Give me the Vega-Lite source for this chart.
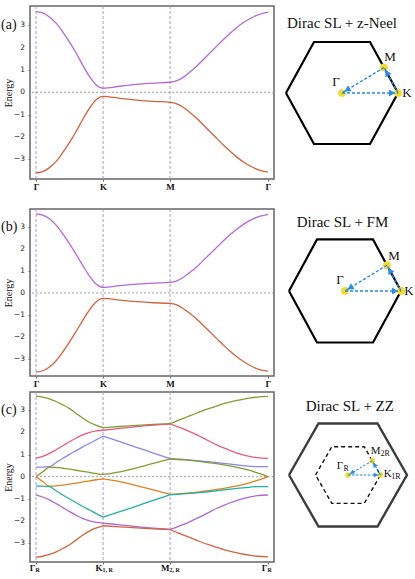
{
"$schema":"https://vega.github.io/schema/vega-lite/v6.json",
"padding":{"left":0,"top":4,"right":0,"bottom":0},
"background":"white",
"config":{"view":{"stroke":null},"font":"Liberation Serif","axis":{"labelOverlap":false,"labelFlush":false}},
"datasets":{
"A":[{"b":"u","x":0,"e":3.62},{"b":"u","x":0.1,"e":3.56},{"b":"u","x":0.2,"e":3.38},{"b":"u","x":0.3,"e":3.1},{"b":"u","x":0.4,"e":2.7},{"b":"u","x":0.5,"e":2.25},{"b":"u","x":0.6,"e":1.75},{"b":"u","x":0.7,"e":1.2},{"b":"u","x":0.8,"e":0.7},{"b":"u","x":0.9,"e":0.32},{"b":"u","x":1,"e":0.18},{"b":"u","x":1.25,"e":0.27},{"b":"u","x":1.5,"e":0.35},{"b":"u","x":1.75,"e":0.41},{"b":"u","x":2,"e":0.45},{"b":"u","x":2.1,"e":0.52},{"b":"u","x":2.2,"e":0.68},{"b":"u","x":2.3,"e":0.92},{"b":"u","x":2.4,"e":1.18},{"b":"u","x":2.5,"e":1.48},{"b":"u","x":2.6,"e":1.78},{"b":"u","x":2.7,"e":2.08},{"b":"u","x":2.8,"e":2.38},{"b":"u","x":2.9,"e":2.66},{"b":"u","x":3,"e":2.92},{"b":"u","x":3.1,"e":3.14},{"b":"u","x":3.2,"e":3.32},{"b":"u","x":3.3,"e":3.46},{"b":"u","x":3.4,"e":3.55},{"b":"u","x":3.46,"e":3.58},
{"b":"l","x":0,"e":-3.62},{"b":"l","x":0.1,"e":-3.56},{"b":"l","x":0.2,"e":-3.38},{"b":"l","x":0.3,"e":-3.1},{"b":"l","x":0.4,"e":-2.7},{"b":"l","x":0.5,"e":-2.25},{"b":"l","x":0.6,"e":-1.75},{"b":"l","x":0.7,"e":-1.2},{"b":"l","x":0.8,"e":-0.7},{"b":"l","x":0.9,"e":-0.32},{"b":"l","x":1,"e":-0.18},{"b":"l","x":1.25,"e":-0.27},{"b":"l","x":1.5,"e":-0.35},{"b":"l","x":1.75,"e":-0.41},{"b":"l","x":2,"e":-0.45},{"b":"l","x":2.1,"e":-0.52},{"b":"l","x":2.2,"e":-0.68},{"b":"l","x":2.3,"e":-0.92},{"b":"l","x":2.4,"e":-1.18},{"b":"l","x":2.5,"e":-1.48},{"b":"l","x":2.6,"e":-1.78},{"b":"l","x":2.7,"e":-2.08},{"b":"l","x":2.8,"e":-2.38},{"b":"l","x":2.9,"e":-2.66},{"b":"l","x":3,"e":-2.92},{"b":"l","x":3.1,"e":-3.14},{"b":"l","x":3.2,"e":-3.32},{"b":"l","x":3.3,"e":-3.46},{"b":"l","x":3.4,"e":-3.55},{"b":"l","x":3.46,"e":-3.58}],
"B":[{"b":"u","x":0,"e":3.62},{"b":"u","x":0.1,"e":3.56},{"b":"u","x":0.2,"e":3.39},{"b":"u","x":0.3,"e":3.1},{"b":"u","x":0.4,"e":2.7},{"b":"u","x":0.5,"e":2.24},{"b":"u","x":0.6,"e":1.75},{"b":"u","x":0.7,"e":1.24},{"b":"u","x":0.8,"e":0.76},{"b":"u","x":0.9,"e":0.4},{"b":"u","x":1,"e":0.25},{"b":"u","x":1.25,"e":0.33},{"b":"u","x":1.5,"e":0.4},{"b":"u","x":1.75,"e":0.45},{"b":"u","x":2,"e":0.48},{"b":"u","x":2.1,"e":0.55},{"b":"u","x":2.2,"e":0.72},{"b":"u","x":2.3,"e":0.95},{"b":"u","x":2.4,"e":1.2},{"b":"u","x":2.5,"e":1.5},{"b":"u","x":2.6,"e":1.8},{"b":"u","x":2.7,"e":2.1},{"b":"u","x":2.8,"e":2.4},{"b":"u","x":2.9,"e":2.68},{"b":"u","x":3,"e":2.93},{"b":"u","x":3.1,"e":3.15},{"b":"u","x":3.2,"e":3.33},{"b":"u","x":3.3,"e":3.47},{"b":"u","x":3.4,"e":3.55},{"b":"u","x":3.46,"e":3.58},
{"b":"l","x":0,"e":-3.62},{"b":"l","x":0.1,"e":-3.56},{"b":"l","x":0.2,"e":-3.39},{"b":"l","x":0.3,"e":-3.1},{"b":"l","x":0.4,"e":-2.7},{"b":"l","x":0.5,"e":-2.24},{"b":"l","x":0.6,"e":-1.75},{"b":"l","x":0.7,"e":-1.24},{"b":"l","x":0.8,"e":-0.76},{"b":"l","x":0.9,"e":-0.4},{"b":"l","x":1,"e":-0.25},{"b":"l","x":1.25,"e":-0.33},{"b":"l","x":1.5,"e":-0.4},{"b":"l","x":1.75,"e":-0.45},{"b":"l","x":2,"e":-0.48},{"b":"l","x":2.1,"e":-0.55},{"b":"l","x":2.2,"e":-0.72},{"b":"l","x":2.3,"e":-0.95},{"b":"l","x":2.4,"e":-1.2},{"b":"l","x":2.5,"e":-1.5},{"b":"l","x":2.6,"e":-1.8},{"b":"l","x":2.7,"e":-2.1},{"b":"l","x":2.8,"e":-2.4},{"b":"l","x":2.9,"e":-2.68},{"b":"l","x":3,"e":-2.93},{"b":"l","x":3.1,"e":-3.15},{"b":"l","x":3.2,"e":-3.33},{"b":"l","x":3.3,"e":-3.47},{"b":"l","x":3.4,"e":-3.55},{"b":"l","x":3.46,"e":-3.58}],
"C":[
{"b":"g1","s":1,"x":0,"e":3.64},{"b":"g1","s":1,"x":0.1,"e":3.6},{"b":"g1","s":1,"x":0.2,"e":3.52},{"b":"g1","s":1,"x":0.3,"e":3.4},{"b":"g1","s":1,"x":0.4,"e":3.25},{"b":"g1","s":1,"x":0.5,"e":3.08},{"b":"g1","s":1,"x":0.6,"e":2.86},{"b":"g1","s":1,"x":0.7,"e":2.64},{"b":"g1","s":1,"x":0.8,"e":2.45},{"b":"g1","s":1,"x":0.9,"e":2.32},{"b":"g1","s":1,"x":1,"e":2.22},
{"b":"g1","s":2,"x":1,"e":2.22},{"b":"g1","s":2,"x":1.25,"e":2.27},{"b":"g1","s":2,"x":1.5,"e":2.32},{"b":"g1","s":2,"x":1.75,"e":2.36},{"b":"g1","s":2,"x":2,"e":2.4},
{"b":"g1","s":3,"x":2,"e":2.4},{"b":"g1","s":3,"x":2.1,"e":2.52},{"b":"g1","s":3,"x":2.2,"e":2.64},{"b":"g1","s":3,"x":2.3,"e":2.76},{"b":"g1","s":3,"x":2.4,"e":2.88},{"b":"g1","s":3,"x":2.5,"e":3.0},{"b":"g1","s":3,"x":2.6,"e":3.1},{"b":"g1","s":3,"x":2.7,"e":3.2},{"b":"g1","s":3,"x":2.8,"e":3.3},{"b":"g1","s":3,"x":2.9,"e":3.38},{"b":"g1","s":3,"x":3,"e":3.45},{"b":"g1","s":3,"x":3.1,"e":3.51},{"b":"g1","s":3,"x":3.2,"e":3.56},{"b":"g1","s":3,"x":3.3,"e":3.6},{"b":"g1","s":3,"x":3.46,"e":3.63},
{"b":"p","s":1,"x":0,"e":0.84},{"b":"p","s":1,"x":0.1,"e":0.92},{"b":"p","s":1,"x":0.2,"e":1.05},{"b":"p","s":1,"x":0.3,"e":1.22},{"b":"p","s":1,"x":0.4,"e":1.4},{"b":"p","s":1,"x":0.5,"e":1.58},{"b":"p","s":1,"x":0.6,"e":1.75},{"b":"p","s":1,"x":0.7,"e":1.9},{"b":"p","s":1,"x":0.8,"e":2.0},{"b":"p","s":1,"x":0.9,"e":2.07},{"b":"p","s":1,"x":1,"e":2.1},
{"b":"p","s":2,"x":1,"e":2.1},{"b":"p","s":2,"x":1.25,"e":2.18},{"b":"p","s":2,"x":1.5,"e":2.26},{"b":"p","s":2,"x":1.75,"e":2.33},{"b":"p","s":2,"x":2,"e":2.38},
{"b":"p","s":3,"x":2,"e":2.38},{"b":"p","s":3,"x":2.1,"e":2.28},{"b":"p","s":3,"x":2.2,"e":2.16},{"b":"p","s":3,"x":2.3,"e":2.03},{"b":"p","s":3,"x":2.4,"e":1.89},{"b":"p","s":3,"x":2.5,"e":1.74},{"b":"p","s":3,"x":2.6,"e":1.58},{"b":"p","s":3,"x":2.7,"e":1.43},{"b":"p","s":3,"x":2.8,"e":1.3},{"b":"p","s":3,"x":2.9,"e":1.18},{"b":"p","s":3,"x":3,"e":1.07},{"b":"p","s":3,"x":3.1,"e":0.98},{"b":"p","s":3,"x":3.2,"e":0.91},{"b":"p","s":3,"x":3.3,"e":0.86},{"b":"p","s":3,"x":3.46,"e":0.83},
{"b":"bl","s":1,"x":0,"e":0.43},{"b":"bl","s":1,"x":0.1,"e":0.43},{"b":"bl","s":1,"x":0.2,"e":0.45},{"b":"bl","s":1,"x":0.3,"e":0.64},{"b":"bl","s":1,"x":0.4,"e":0.83},{"b":"bl","s":1,"x":0.5,"e":1.01},{"b":"bl","s":1,"x":0.6,"e":1.18},{"b":"bl","s":1,"x":0.7,"e":1.35},{"b":"bl","s":1,"x":0.8,"e":1.51},{"b":"bl","s":1,"x":0.9,"e":1.67},{"b":"bl","s":1,"x":1,"e":1.83},
{"b":"bl","s":2,"x":1,"e":1.83},{"b":"bl","s":2,"x":1.25,"e":1.58},{"b":"bl","s":2,"x":1.5,"e":1.33},{"b":"bl","s":2,"x":1.75,"e":1.07},{"b":"bl","s":2,"x":2,"e":0.82},
{"b":"bl","s":3,"x":2,"e":0.82},{"b":"bl","s":3,"x":2.2,"e":0.78},{"b":"bl","s":3,"x":2.4,"e":0.73},{"b":"bl","s":3,"x":2.6,"e":0.67},{"b":"bl","s":3,"x":2.8,"e":0.6},{"b":"bl","s":3,"x":3,"e":0.53},{"b":"bl","s":3,"x":3.2,"e":0.47},{"b":"bl","s":3,"x":3.3,"e":0.45},{"b":"bl","s":3,"x":3.46,"e":0.45},
{"b":"g2","s":1,"x":0,"e":0},{"b":"g2","s":1,"x":0.1,"e":0.22},{"b":"g2","s":1,"x":0.2,"e":0.43},{"b":"g2","s":1,"x":0.3,"e":0.42},{"b":"g2","s":1,"x":0.4,"e":0.38},{"b":"g2","s":1,"x":0.5,"e":0.34},{"b":"g2","s":1,"x":0.6,"e":0.29},{"b":"g2","s":1,"x":0.7,"e":0.24},{"b":"g2","s":1,"x":0.8,"e":0.19},{"b":"g2","s":1,"x":0.9,"e":0.14},{"b":"g2","s":1,"x":1,"e":0.1},
{"b":"g2","s":2,"x":1,"e":0.1},{"b":"g2","s":2,"x":1.25,"e":0.22},{"b":"g2","s":2,"x":1.5,"e":0.4},{"b":"g2","s":2,"x":1.75,"e":0.6},{"b":"g2","s":2,"x":2,"e":0.8},
{"b":"g2","s":3,"x":2,"e":0.8},{"b":"g2","s":3,"x":2.2,"e":0.76},{"b":"g2","s":3,"x":2.4,"e":0.7},{"b":"g2","s":3,"x":2.6,"e":0.62},{"b":"g2","s":3,"x":2.8,"e":0.53},{"b":"g2","s":3,"x":3,"e":0.42},{"b":"g2","s":3,"x":3.1,"e":0.35},{"b":"g2","s":3,"x":3.2,"e":0.27},{"b":"g2","s":3,"x":3.3,"e":0.17},{"b":"g2","s":3,"x":3.4,"e":0.07},{"b":"g2","s":3,"x":3.46,"e":0},
{"b":"o","s":1,"x":0,"e":0},{"b":"o","s":1,"x":0.1,"e":-0.22},{"b":"o","s":1,"x":0.2,"e":-0.43},{"b":"o","s":1,"x":0.3,"e":-0.42},{"b":"o","s":1,"x":0.4,"e":-0.38},{"b":"o","s":1,"x":0.5,"e":-0.34},{"b":"o","s":1,"x":0.6,"e":-0.29},{"b":"o","s":1,"x":0.7,"e":-0.24},{"b":"o","s":1,"x":0.8,"e":-0.19},{"b":"o","s":1,"x":0.9,"e":-0.14},{"b":"o","s":1,"x":1,"e":-0.1},
{"b":"o","s":2,"x":1,"e":-0.1},{"b":"o","s":2,"x":1.25,"e":-0.22},{"b":"o","s":2,"x":1.5,"e":-0.4},{"b":"o","s":2,"x":1.75,"e":-0.6},{"b":"o","s":2,"x":2,"e":-0.8},
{"b":"o","s":3,"x":2,"e":-0.8},{"b":"o","s":3,"x":2.2,"e":-0.76},{"b":"o","s":3,"x":2.4,"e":-0.7},{"b":"o","s":3,"x":2.6,"e":-0.62},{"b":"o","s":3,"x":2.8,"e":-0.53},{"b":"o","s":3,"x":3,"e":-0.42},{"b":"o","s":3,"x":3.1,"e":-0.35},{"b":"o","s":3,"x":3.2,"e":-0.27},{"b":"o","s":3,"x":3.3,"e":-0.17},{"b":"o","s":3,"x":3.4,"e":-0.07},{"b":"o","s":3,"x":3.46,"e":0},
{"b":"t","s":1,"x":0,"e":-0.43},{"b":"t","s":1,"x":0.1,"e":-0.43},{"b":"t","s":1,"x":0.2,"e":-0.45},{"b":"t","s":1,"x":0.3,"e":-0.64},{"b":"t","s":1,"x":0.4,"e":-0.83},{"b":"t","s":1,"x":0.5,"e":-1.01},{"b":"t","s":1,"x":0.6,"e":-1.18},{"b":"t","s":1,"x":0.7,"e":-1.35},{"b":"t","s":1,"x":0.8,"e":-1.51},{"b":"t","s":1,"x":0.9,"e":-1.67},{"b":"t","s":1,"x":1,"e":-1.83},
{"b":"t","s":2,"x":1,"e":-1.83},{"b":"t","s":2,"x":1.25,"e":-1.58},{"b":"t","s":2,"x":1.5,"e":-1.33},{"b":"t","s":2,"x":1.75,"e":-1.07},{"b":"t","s":2,"x":2,"e":-0.82},
{"b":"t","s":3,"x":2,"e":-0.82},{"b":"t","s":3,"x":2.2,"e":-0.78},{"b":"t","s":3,"x":2.4,"e":-0.73},{"b":"t","s":3,"x":2.6,"e":-0.67},{"b":"t","s":3,"x":2.8,"e":-0.6},{"b":"t","s":3,"x":3,"e":-0.53},{"b":"t","s":3,"x":3.2,"e":-0.47},{"b":"t","s":3,"x":3.3,"e":-0.45},{"b":"t","s":3,"x":3.46,"e":-0.45},
{"b":"pu","s":1,"x":0,"e":-0.84},{"b":"pu","s":1,"x":0.1,"e":-0.92},{"b":"pu","s":1,"x":0.2,"e":-1.05},{"b":"pu","s":1,"x":0.3,"e":-1.22},{"b":"pu","s":1,"x":0.4,"e":-1.4},{"b":"pu","s":1,"x":0.5,"e":-1.58},{"b":"pu","s":1,"x":0.6,"e":-1.75},{"b":"pu","s":1,"x":0.7,"e":-1.9},{"b":"pu","s":1,"x":0.8,"e":-2.0},{"b":"pu","s":1,"x":0.9,"e":-2.07},{"b":"pu","s":1,"x":1,"e":-2.1},
{"b":"pu","s":2,"x":1,"e":-2.1},{"b":"pu","s":2,"x":1.25,"e":-2.18},{"b":"pu","s":2,"x":1.5,"e":-2.26},{"b":"pu","s":2,"x":1.75,"e":-2.33},{"b":"pu","s":2,"x":2,"e":-2.38},
{"b":"pu","s":3,"x":2,"e":-2.38},{"b":"pu","s":3,"x":2.1,"e":-2.28},{"b":"pu","s":3,"x":2.2,"e":-2.16},{"b":"pu","s":3,"x":2.3,"e":-2.03},{"b":"pu","s":3,"x":2.4,"e":-1.89},{"b":"pu","s":3,"x":2.5,"e":-1.74},{"b":"pu","s":3,"x":2.6,"e":-1.58},{"b":"pu","s":3,"x":2.7,"e":-1.43},{"b":"pu","s":3,"x":2.8,"e":-1.3},{"b":"pu","s":3,"x":2.9,"e":-1.18},{"b":"pu","s":3,"x":3,"e":-1.07},{"b":"pu","s":3,"x":3.1,"e":-0.98},{"b":"pu","s":3,"x":3.2,"e":-0.91},{"b":"pu","s":3,"x":3.3,"e":-0.86},{"b":"pu","s":3,"x":3.46,"e":-0.83},
{"b":"r","s":1,"x":0,"e":-3.64},{"b":"r","s":1,"x":0.1,"e":-3.6},{"b":"r","s":1,"x":0.2,"e":-3.52},{"b":"r","s":1,"x":0.3,"e":-3.4},{"b":"r","s":1,"x":0.4,"e":-3.25},{"b":"r","s":1,"x":0.5,"e":-3.08},{"b":"r","s":1,"x":0.6,"e":-2.86},{"b":"r","s":1,"x":0.7,"e":-2.64},{"b":"r","s":1,"x":0.8,"e":-2.45},{"b":"r","s":1,"x":0.9,"e":-2.32},{"b":"r","s":1,"x":1,"e":-2.22},
{"b":"r","s":2,"x":1,"e":-2.22},{"b":"r","s":2,"x":1.25,"e":-2.27},{"b":"r","s":2,"x":1.5,"e":-2.32},{"b":"r","s":2,"x":1.75,"e":-2.36},{"b":"r","s":2,"x":2,"e":-2.4},
{"b":"r","s":3,"x":2,"e":-2.4},{"b":"r","s":3,"x":2.1,"e":-2.52},{"b":"r","s":3,"x":2.2,"e":-2.64},{"b":"r","s":3,"x":2.3,"e":-2.76},{"b":"r","s":3,"x":2.4,"e":-2.88},{"b":"r","s":3,"x":2.5,"e":-3.0},{"b":"r","s":3,"x":2.6,"e":-3.1},{"b":"r","s":3,"x":2.7,"e":-3.2},{"b":"r","s":3,"x":2.8,"e":-3.3},{"b":"r","s":3,"x":2.9,"e":-3.38},{"b":"r","s":3,"x":3,"e":-3.45},{"b":"r","s":3,"x":3.1,"e":-3.51},{"b":"r","s":3,"x":3.2,"e":-3.56},{"b":"r","s":3,"x":3.3,"e":-3.6},{"b":"r","s":3,"x":3.46,"e":-3.63}],
"kpts":[{"x":0},{"x":1},{"x":2}],
"zero":[{"e":0}],
"one":[{}],
"yt":[{"e":-3},{"e":-2},{"e":-1},{"e":0},{"e":1},{"e":2},{"e":3}],
"CL":[{"x":0,"m":"Γ","s":"R"},{"x":1,"m":"K","s":"1, R"},{"x":2,"m":"M","s":"2, R"},{"x":3.46,"m":"Γ","s":"R"}],
"hex":[{"i":0,"x":-1,"y":0},{"i":1,"x":-0.5,"y":0.866},{"i":2,"x":0.5,"y":0.866},{"i":3,"x":1,"y":0},{"i":4,"x":0.5,"y":-0.866},{"i":5,"x":-0.5,"y":-0.866},{"i":6,"x":-1,"y":0}],
"hexin":[{"i":0,"x":-0.55,"y":0},{"i":1,"x":-0.275,"y":0.476},{"i":2,"x":0.275,"y":0.476},{"i":3,"x":0.55,"y":0},{"i":4,"x":0.275,"y":-0.476},{"i":5,"x":-0.275,"y":-0.476},{"i":6,"x":-0.55,"y":0}],
"ptsAB":[{"x":0,"y":0},{"x":1,"y":0},{"x":0.75,"y":0.433}],
"arrAB":[{"a":1,"i":0,"x":0,"y":0},{"a":1,"i":1,"x":1,"y":0},{"a":2,"i":0,"x":1,"y":0},{"a":2,"i":1,"x":0.75,"y":0.433},{"a":3,"i":0,"x":0.75,"y":0.433},{"a":3,"i":1,"x":0,"y":0}],
"headAB":[{"x":0.893,"y":0,"h":0},{"x":0.801,"y":0.343,"h":241},{"x":0.092,"y":0.053,"h":149}],
"labA":[{"x":-0.107,"y":0.187,"t":"Γ"},{"x":1.16,"y":0,"t":"K"},{"x":0.857,"y":0.603,"t":"M"}],
"labB":[{"x":-0.089,"y":0.185,"t":"Γ"},{"x":1.14,"y":0,"t":"K"},{"x":0.875,"y":0.585,"t":"M"}],
"titA":[{"x":0,"y":1.19,"t":"Dirac SL + z-Neel"}],
"titB":[{"x":-0.045,"y":1.16,"t":"Dirac SL + FM"}],
"titC":[{"x":0.03,"y":1.16,"t":"Dirac SL + ZZ"}],
"ptsC":[{"x":0,"y":0},{"x":0.55,"y":0},{"x":0.4125,"y":0.238}],
"arrC":[{"a":1,"i":0,"x":0,"y":0},{"a":1,"i":1,"x":0.55,"y":0},{"a":2,"i":0,"x":0.55,"y":0},{"a":2,"i":1,"x":0.4125,"y":0.238},{"a":3,"i":0,"x":0.4125,"y":0.238},{"a":3,"i":1,"x":0,"y":0}],
"headC":[{"x":0.474,"y":0,"h":0},{"x":0.45,"y":0.172,"h":240},{"x":0.066,"y":0.038,"h":150}],
"labC":[{"x":-0.136,"y":0.151,"t":"Γ"},{"x":0.47,"y":0.41,"t":"M"},{"x":0.673,"y":0.017,"t":"K"}],
"subC":[{"x":-0.075,"y":0.105,"t":"R"},{"x":0.55,"y":0.36,"t":"2R"},{"x":0.735,"y":-0.034,"t":"1R"}]
},
"spacing":1,
"vconcat":[
{"spacing":15,"vconcat":[
{"spacing":5,"hconcat":[
{"width":244,"height":173,"view":{"stroke":"#666","strokeWidth":1.5},
"layer":[
{"data":{"name":"kpts"},"mark":{"type":"rule","color":"#a58ad8","strokeWidth":0.9,"strokeDash":[3,2]},
"encoding":{"x":{"field":"x","type":"quantitative","scale":{"domain":[-0.09,3.55],"nice":false,"zero":false},"title":null}}},
{"data":{"name":"zero"},"mark":{"type":"rule","color":"#888","strokeWidth":0.8,"strokeDash":[2,2]},
"encoding":{"y":{"field":"e","type":"quantitative","scale":{"domain":[-3.89,3.87],"nice":false,"zero":false},"title":"Energy"}}},
{"data":{"name":"A"},"mark":{"type":"line","interpolate":"monotone","strokeWidth":1.3},
"encoding":{"x":{"field":"x","type":"quantitative","scale":{"domain":[-0.09,3.55],"nice":false,"zero":false},
"axis":{"values":[0,1,2,3.46],"labelExpr":"datum.value == 1 ? 'K' : datum.value == 2 ? 'M' : 'Γ'","title":null,"grid":false,"domain":false,"tickSize":2,"tickColor":"#666","labelFont":"Liberation Serif","labelFontWeight":"bold","labelFontSize":9,"labelColor":"#111","labelPadding":1}},
"y":{"field":"e","type":"quantitative","scale":{"domain":[-3.89,3.87],"nice":false,"zero":false},
"axis":{"values":[-3,-2,-1,0,1,2,3],"labels":false,"title":"Energy","titleFont":"Liberation Serif","titleFontSize":10,"titleFontWeight":"normal","titleColor":"#111","titlePadding":14,"grid":false,"domain":false,"tickSize":2,"tickColor":"#666"}},
"color":{"field":"b","type":"nominal","scale":{"domain":["u","l","g1","p","bl","g2","o","t","pu","r"],"range":["#b567d6","#d0633e","#7f9c2e","#e65a7e","#8a86f0","#7f9c2e","#e0801f","#22b0a0","#b067d4","#d0633e"]},"legend":null}}},
{"data":{"name":"yt"},"mark":{"type":"text","align":"right","baseline":"middle","dx":-5,"font":"DejaVu Sans","fontSize":7.5,"color":"#222"},
"encoding":{"x":{"datum":-0.09},"y":{"field":"e","type":"quantitative","scale":{"domain":[-3.89,3.87],"nice":false,"zero":false},"title":"Energy"},"text":{"field":"e","type":"quantitative","format":"d"}}},
{"data":{"name":"one"},"mark":{"type":"text","align":"left","baseline":"middle","dx":-29,"font":"Liberation Serif","fontSize":14,"color":"#111"},
"encoding":{"x":{"datum":-0.09},"y":{"datum":3},"text":{"value":"(a)"}}}
]},
{"width":135,"height":173,"view":{"stroke":null},
"encoding":{"x":{"field":"x","type":"quantitative","scale":{"domain":[-1.089,1.321],"nice":false,"zero":false},"axis":null},
"y":{"field":"y","type":"quantitative","scale":{"domain":[-1.46,1.477],"nice":false,"zero":false},"axis":null}},
"layer":[
{"data":{"name":"hex"},"mark":{"type":"line","color":"#000","strokeWidth":2.2},"encoding":{"order":{"field":"i"}}},
{"data":{"name":"ptsAB"},"mark":{"type":"point","filled":true,"color":"#f3d932","size":60,"opacity":1}},
{"data":{"name":"arrAB"},"mark":{"type":"line","color":"#2288e0","strokeWidth":1.4,"strokeDash":[3,2]},"encoding":{"detail":{"field":"a"},"order":{"field":"i"}}},
{"data":{"name":"headAB"},"mark":{"type":"point","shape":"triangle-right","filled":true,"color":"#2c8ce6","size":50,"opacity":1},"encoding":{"angle":{"field":"h","type":"quantitative","scale":null}}},
{"data":{"name":"labA"},"mark":{"type":"text","font":"Liberation Serif","fontSize":13,"color":"#111","baseline":"middle"},"encoding":{"text":{"field":"t"}}},
{"data":{"name":"titA"},"mark":{"type":"text","font":"Liberation Serif","fontSize":15,"color":"#111","baseline":"middle"},"encoding":{"text":{"field":"t"}}}
]}
]},
{"spacing":5,"hconcat":[
{"width":244,"height":167,"view":{"stroke":"#666","strokeWidth":1.5},
"layer":[
{"data":{"name":"kpts"},"mark":{"type":"rule","color":"#a58ad8","strokeWidth":0.9,"strokeDash":[3,2]},
"encoding":{"x":{"field":"x","type":"quantitative","scale":{"domain":[-0.09,3.55],"nice":false,"zero":false},"title":null}}},
{"data":{"name":"zero"},"mark":{"type":"rule","color":"#888","strokeWidth":0.8,"strokeDash":[2,2]},
"encoding":{"y":{"field":"e","type":"quantitative","scale":{"domain":[-3.8,3.84],"nice":false,"zero":false},"title":"Energy"}}},
{"data":{"name":"B"},"mark":{"type":"line","interpolate":"monotone","strokeWidth":1.3},
"encoding":{"x":{"field":"x","type":"quantitative","scale":{"domain":[-0.09,3.55],"nice":false,"zero":false},
"axis":{"values":[0,1,2,3.46],"labelExpr":"datum.value == 1 ? 'K' : datum.value == 2 ? 'M' : 'Γ'","title":null,"grid":false,"domain":false,"tickSize":2,"tickColor":"#666","labelFont":"Liberation Serif","labelFontWeight":"bold","labelFontSize":9,"labelColor":"#111","labelPadding":1}},
"y":{"field":"e","type":"quantitative","scale":{"domain":[-3.8,3.84],"nice":false,"zero":false},
"axis":{"values":[-3,-2,-1,0,1,2,3],"labels":false,"title":"Energy","titleFont":"Liberation Serif","titleFontSize":10,"titleFontWeight":"normal","titleColor":"#111","titlePadding":14,"grid":false,"domain":false,"tickSize":2,"tickColor":"#666"}},
"color":{"field":"b","type":"nominal","scale":{"domain":["u","l","g1","p","bl","g2","o","t","pu","r"],"range":["#b567d6","#d0633e","#7f9c2e","#e65a7e","#8a86f0","#7f9c2e","#e0801f","#22b0a0","#b067d4","#d0633e"]},"legend":null}}},
{"data":{"name":"yt"},"mark":{"type":"text","align":"right","baseline":"middle","dx":-5,"font":"DejaVu Sans","fontSize":7.5,"color":"#222"},
"encoding":{"x":{"datum":-0.09},"y":{"field":"e","type":"quantitative","scale":{"domain":[-3.8,3.84],"nice":false,"zero":false},"title":"Energy"},"text":{"field":"e","type":"quantitative","format":"d"}}},
{"data":{"name":"one"},"mark":{"type":"text","align":"left","baseline":"middle","dx":-29,"font":"Liberation Serif","fontSize":14,"color":"#111"},
"encoding":{"x":{"datum":-0.09},"y":{"datum":3},"text":{"value":"(b)"}}}
]},
{"width":135,"height":167,"view":{"stroke":null},
"encoding":{"x":{"field":"x","type":"quantitative","scale":{"domain":[-1.143,1.268],"nice":false,"zero":false},"axis":null},
"y":{"field":"y","type":"quantitative","scale":{"domain":[-1.429,1.378],"nice":false,"zero":false},"axis":null}},
"layer":[
{"data":{"name":"hex"},"mark":{"type":"line","color":"#000","strokeWidth":2.2},"encoding":{"order":{"field":"i"}}},
{"data":{"name":"ptsAB"},"mark":{"type":"point","filled":true,"color":"#f3d932","size":60,"opacity":1}},
{"data":{"name":"arrAB"},"mark":{"type":"line","color":"#2288e0","strokeWidth":1.4,"strokeDash":[3,2]},"encoding":{"detail":{"field":"a"},"order":{"field":"i"}}},
{"data":{"name":"headAB"},"mark":{"type":"point","shape":"triangle-right","filled":true,"color":"#2c8ce6","size":50,"opacity":1},"encoding":{"angle":{"field":"h","type":"quantitative","scale":null}}},
{"data":{"name":"labB"},"mark":{"type":"text","font":"Liberation Serif","fontSize":13,"color":"#111","baseline":"middle"},"encoding":{"text":{"field":"t"}}},
{"data":{"name":"titB"},"mark":{"type":"text","font":"Liberation Serif","fontSize":15,"color":"#111","baseline":"middle"},"encoding":{"text":{"field":"t"}}}
]}
]}
]},
{"spacing":5,"hconcat":[
{"width":244,"height":170,"view":{"stroke":"#666","strokeWidth":1.5},
"layer":[
{"data":{"name":"kpts"},"mark":{"type":"rule","color":"#a58ad8","strokeWidth":0.9,"strokeDash":[3,2]},
"encoding":{"x":{"field":"x","type":"quantitative","scale":{"domain":[-0.09,3.55],"nice":false,"zero":false},"title":null}}},
{"data":{"name":"zero"},"mark":{"type":"rule","color":"#888","strokeWidth":0.8,"strokeDash":[2,2]},
"encoding":{"y":{"field":"e","type":"quantitative","scale":{"domain":[-3.86,3.83],"nice":false,"zero":false},"title":"Energy"}}},
{"data":{"name":"C"},"mark":{"type":"line","interpolate":"monotone","strokeWidth":1.3},
"encoding":{"x":{"field":"x","type":"quantitative","scale":{"domain":[-0.09,3.55],"nice":false,"zero":false},
"axis":{"values":[0,1,2,3.46],"labels":false,"title":null,"grid":false,"domain":false,"tickSize":2,"tickColor":"#666"}},
"y":{"field":"e","type":"quantitative","scale":{"domain":[-3.86,3.83],"nice":false,"zero":false},
"axis":{"values":[-3,-2,-1,0,1,2,3],"labels":false,"title":"Energy","titleFont":"Liberation Serif","titleFontSize":10,"titleFontWeight":"normal","titleColor":"#111","titlePadding":14,"grid":false,"domain":false,"tickSize":2,"tickColor":"#666"}},
"color":{"field":"b","type":"nominal","scale":{"domain":["u","l","g1","p","bl","g2","o","t","pu","r"],"range":["#b567d6","#d0633e","#7f9c2e","#e65a7e","#8a86f0","#7f9c2e","#e0801f","#22b0a0","#b067d4","#d0633e"]},"legend":null},
"detail":{"field":"s"}}},
{"data":{"name":"yt"},"mark":{"type":"text","align":"right","baseline":"middle","dx":-5,"font":"DejaVu Sans","fontSize":7.5,"color":"#222"},
"encoding":{"x":{"datum":-0.09},"y":{"field":"e","type":"quantitative","scale":{"domain":[-3.86,3.83],"nice":false,"zero":false},"title":"Energy"},"text":{"field":"e","type":"quantitative","format":"d"}}},
{"data":{"name":"CL"},"mark":{"type":"text","align":"right","baseline":"top","dx":-0.5,"dy":2,"font":"Liberation Serif","fontWeight":"bold","fontSize":9,"color":"#111"},
"encoding":{"x":{"field":"x","type":"quantitative","scale":{"domain":[-0.09,3.55],"nice":false,"zero":false},"title":null},"y":{"datum":-3.86},"text":{"field":"m"}}},
{"data":{"name":"CL"},"mark":{"type":"text","align":"left","baseline":"top","dx":-0.5,"dy":5,"font":"Liberation Serif","fontWeight":"bold","fontSize":6,"color":"#111"},
"encoding":{"x":{"field":"x","type":"quantitative","scale":{"domain":[-0.09,3.55],"nice":false,"zero":false},"title":null},"y":{"datum":-3.86},"text":{"field":"s"}}},
{"data":{"name":"one"},"mark":{"type":"text","align":"left","baseline":"middle","dx":-29,"font":"Liberation Serif","fontSize":14,"color":"#111"},
"encoding":{"x":{"datum":-0.09},"y":{"datum":3},"text":{"value":"(c)"}}}
]},
{"width":135,"height":170,"view":{"stroke":null},
"encoding":{"x":{"field":"x","type":"quantitative","scale":{"domain":[-1.136,1.153],"nice":false,"zero":false},"axis":null},
"y":{"field":"y","type":"quantitative","scale":{"domain":[-1.462,1.395],"nice":false,"zero":false},"axis":null}},
"layer":[
{"data":{"name":"hex"},"mark":{"type":"line","color":"#3c3c3c","strokeWidth":2.4},"encoding":{"order":{"field":"i"}}},
{"data":{"name":"hexin"},"mark":{"type":"line","color":"#111","strokeWidth":1.4,"strokeDash":[4,3]},"encoding":{"order":{"field":"i"}}},
{"data":{"name":"ptsC"},"mark":{"type":"point","filled":true,"color":"#f3d932","size":32,"opacity":1}},
{"data":{"name":"arrC"},"mark":{"type":"line","color":"#2288e0","strokeWidth":1.1,"strokeDash":[2.5,1.5]},"encoding":{"detail":{"field":"a"},"order":{"field":"i"}}},
{"data":{"name":"headC"},"mark":{"type":"point","shape":"triangle-right","filled":true,"color":"#2c8ce6","size":26,"opacity":1},"encoding":{"angle":{"field":"h","type":"quantitative","scale":null}}},
{"data":{"name":"labC"},"mark":{"type":"text","font":"Liberation Serif","fontSize":11,"color":"#111","baseline":"middle"},"encoding":{"text":{"field":"t"}}},
{"data":{"name":"subC"},"mark":{"type":"text","font":"Liberation Serif","fontSize":8,"color":"#111","baseline":"middle","align":"left"},"encoding":{"text":{"field":"t"}}},
{"data":{"name":"titC"},"mark":{"type":"text","font":"Liberation Serif","fontSize":15,"color":"#111","baseline":"middle"},"encoding":{"text":{"field":"t"}}}
]}
]}
]
}
